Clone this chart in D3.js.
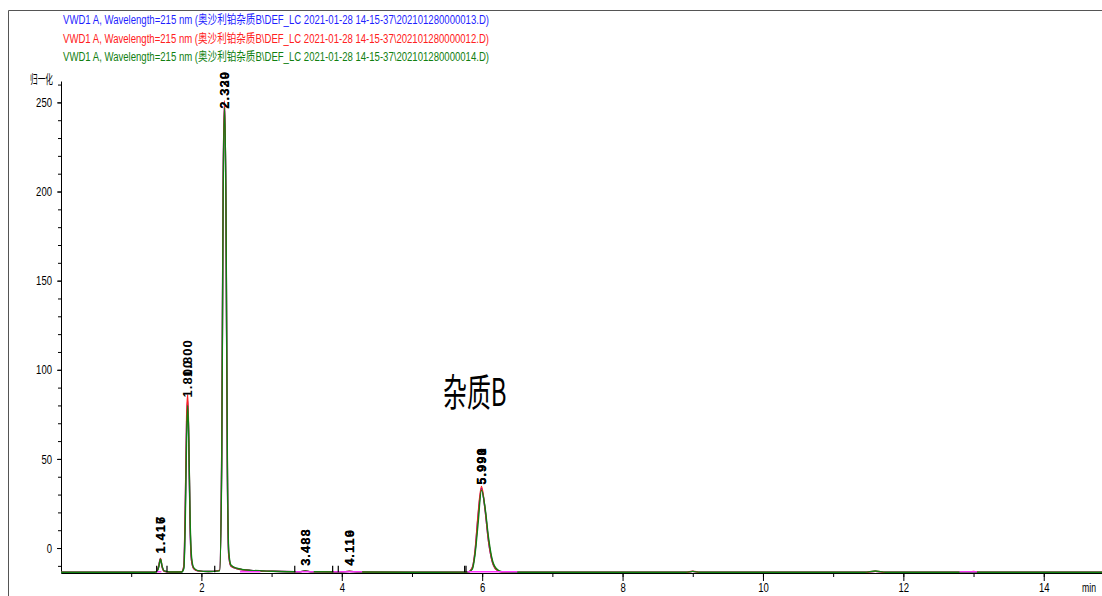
<!DOCTYPE html>
<html>
<head>
<meta charset="utf-8">
<script src="https://cdn.jsdelivr.net/npm/d3@7"></script>
<style>
  html, body { margin: 0; padding: 0; background: #fff; overflow: hidden; }
  svg { display: block; }
</style>
</head>
<body>
<div id="chart"></div>
<script>
// legend lines (one per run)
const legendTexts = [
  "VWD1 A, Wavelength=215 nm (奥沙利铂杂质B\\DEF_LC 2021-01-28 14-15-37\\202101280000013.D)",
  "VWD1 A, Wavelength=215 nm (奥沙利铂杂质B\\DEF_LC 2021-01-28 14-15-37\\202101280000012.D)",
  "VWD1 A, Wavelength=215 nm (奥沙利铂杂质B\\DEF_LC 2021-01-28 14-15-37\\202101280000014.D)"
];
const seriesColors = ["#1f1fff", "#ff2020", "#118011"];

// retention time (min)
const times = [0, 1.30, 1.36, 1.39, 1.417, 1.44, 1.47, 1.55, 1.72, 1.75, 1.77, 1.79, 1.805, 1.82, 1.84, 1.86, 1.89, 1.95,
  2.10, 2.26, 2.29, 2.31, 2.33, 2.35, 2.37, 2.39, 2.42, 2.50, 2.70, 3.00, 3.40, 3.48, 3.56, 4.00, 4.11, 4.22,
  5.00, 5.80, 5.86, 5.90, 5.94, 5.99, 6.04, 6.09, 6.14, 6.20, 6.28, 6.50, 8.00, 8.90, 9.00, 9.10, 11.45, 11.60,
  11.75, 12.90, 13.00, 13.10, 14.83];

const blueValues = [-13.6, -13.6, -13.2, -10.6, -6.0, -10.6, -13.0, -13.4, -13.3, -10.5, 20, 71, 83, 60, 11, -7, -11.5, -12.8,
  -13.2, -12.5, 54, 204, 250, 189, 44, -4, -10, -11.5, -12.6, -13.0, -13.3, -12.9, -13.3, -13.4, -13.1, -13.4,
  -13.6, -13.5, -11, -1.5, 17, 33.5, 22, 4, -7, -12, -13.4, -13.6, -13.6, -13.6, -13.1, -13.6, -13.6, -13.1,
  -13.6, -13.6, -13.5, -13.6, -13.6];

const redValues = [-13.6, -13.6, -13.2, -10.5, -5.8, -10.5, -13.0, -13.4, -13.3, -10, 22, 74, 86, 62, 12, -7, -11.5, -12.8,
  -13.2, -12.5, 55, 205, 251, 190, 45, -4, -10, -11.5, -12.6, -13.0, -13.3, -12.8, -13.3, -13.4, -13.0, -13.4,
  -13.6, -13.5, -11, -1, 18, 34.5, 22, 4, -7, -12, -13.4, -13.6, -13.6, -13.6, -13.0, -13.6, -13.6, -13.0,
  -13.6, -13.6, -13.2, -13.6, -13.6];

const greenValues = [-13.6, -13.6, -13.3, -11.0, -6.2, -10.0, -12.8, -13.4, -13.4, -11.5, 14, 64, 80, 62, 15, -5, -11, -12.7,
  -13.2, -12.8, 48, 198, 247, 194, 50, -2, -9.5, -11.3, -12.5, -13.0, -13.3, -12.9, -13.3, -13.4, -13.1, -13.4,
  -13.6, -13.5, -11.8, -3, 13, 32.5, 23, 6, -6, -11.5, -13.3, -13.6, -13.6, -13.6, -13.1, -13.6, -13.6, -12.9,
  -13.6, -13.6, -13.5, -13.6, -13.6];

const seriesValues = [blueValues, redValues, greenValues];

// peak labels (retention time, label foot value, text)
const peakLabelTimes = [1.417, 1.417, 1.80, 1.80, 2.33, 2.33, 3.485, 3.485, 4.11, 4.11, 5.99, 5.99, 5.99];
const peakLabelValues = [-3, -3, 84.5, 96, 246.5, 246.5, -10, -10, -10, -10, 35.5, 35.5, 35.5];
const peakLabelTexts = ["1.417", "1.416", "1.800", "1.800", "2.330", "2.329", "3.488", "3.483", "4.116", "4.119", "5.990", "5.993", "5.991"];

// integration baselines and event marks
const baselineStarts = [1.37, 2.55, 3.34, 3.88, 5.79, 12.8];
const baselineEnds = [1.43, 2.84, 3.60, 4.29, 6.50, 13.05];
const eventTimes = [1.363, 1.51, 2.19, 3.33, 3.87, 3.95, 5.75, 5.77];

const xTicks = d3.range(1, 15);
const yTicks = d3.range(-10, 261, 10);

const width = 1102;
const height = 596;
const plotLeft = 61;
const plotRight = 1102;
const plotTop = 81;
const plotBottom = 573;

const svg = d3
  .select("#chart")
  .append("svg")
  .attr("width", width)
  .attr("height", height);

const x = d3.scaleLinear().domain([0, 14.83]).range([plotLeft, plotRight]);
const y = d3.scaleLinear().domain([-14, 262]).range([plotBottom, plotTop]);

// outer frame
svg
  .append("path")
  .attr("d", `M8.5,${height} V10.5 H${width}`)
  .attr("fill", "none")
  .attr("stroke", "#555")
  .attr("stroke-width", 1);

// legend
svg
  .selectAll(".legend")
  .data(legendTexts)
  .enter()
  .append("text")
  .attr("class", "legend")
  .attr("x", 63)
  .attr("y", (_, i) => 24 + i * 18.5)
  .attr("textLength", 426)
  .attr("lengthAdjust", "spacingAndGlyphs")
  .attr("fill", (_, i) => seriesColors[i])
  .style("font-family", "'Liberation Sans', 'Noto Sans CJK SC', sans-serif")
  .style("font-size", "12.5px")
  .text((d) => d);

// condensed tick labels, ~5.3px per character
const tickFont = (g) =>
  g
    .selectAll("text")
    .style("font-family", "'Liberation Sans', Arial, sans-serif")
    .style("font-size", "13px")
    .attr("textLength", function () {
      return this.textContent.length * 5.3;
    })
    .attr("lengthAdjust", "spacingAndGlyphs")
    .attr("fill", "#000");

// y axis: minor ticks, then labelled majors
svg
  .append("g")
  .attr("transform", `translate(${plotLeft},0)`)
  .call(d3.axisLeft(y).tickValues(yTicks).tickSize(3).tickSizeOuter(0).tickFormat(""))
  .call((g) => g.selectAll("line").attr("stroke", "#000"))
  .call((g) => g.select(".domain").attr("stroke", "#000"));

svg
  .append("g")
  .attr("transform", `translate(${plotLeft},0)`)
  .call(d3.axisLeft(y).tickValues([0, 50, 100, 150, 200, 250]).tickSize(4).tickPadding(5))
  .call((g) => g.select(".domain").remove())
  .call((g) => g.selectAll("line").attr("stroke", "#000"))
  .call(tickFont);

svg
  .append("text")
  .attr("x", 53)
  .attr("y", 84)
  .attr("text-anchor", "end")
  .attr("textLength", 23)
  .attr("lengthAdjust", "spacingAndGlyphs")
  .style("font-family", "'Noto Sans CJK SC', sans-serif")
  .style("font-size", "12.5px")
  .text("归一化");

// x axis
svg
  .append("g")
  .attr("transform", `translate(0,${plotBottom})`)
  .call(d3.axisBottom(x).tickValues(xTicks).tickSize(4).tickSizeOuter(0).tickFormat(""))
  .call((g) => g.selectAll("line").attr("stroke", "#000"))
  .call((g) => g.select(".domain").attr("stroke", "#000"));

svg
  .append("g")
  .attr("transform", `translate(0,${plotBottom})`)
  .call(d3.axisBottom(x).tickValues(xTicks.filter((t) => t % 2 === 0)).tickSize(8).tickPadding(2))
  .call((g) => g.select(".domain").remove())
  .call((g) => g.selectAll("line").attr("stroke", "#000"))
  .call(tickFont);

// axis unit at the right edge
svg
  .append("text")
  .attr("x", 1082)
  .attr("y", 592)
  .attr("textLength", 14)
  .attr("lengthAdjust", "spacingAndGlyphs")
  .style("font-family", "'Liberation Sans', sans-serif")
  .style("font-size", "12px")
  .text("min");

// traces
const line = d3
  .line()
  .x((d) => x(d[0]))
  .y((d) => y(d[1]))
  .curve(d3.curveMonotoneX);

svg
  .selectAll(".trace")
  .data(seriesValues)
  .enter()
  .append("path")
  .attr("class", "trace")
  .attr("d", (vals) => line(times.map((t, i) => [t, vals[i]])))
  .attr("fill", "none")
  .attr("stroke", (_, i) => seriesColors[i])
  .attr("stroke-width", 1.4)
  .attr("stroke-linejoin", "round");

// integration baselines
svg
  .selectAll(".base")
  .data(baselineStarts)
  .enter()
  .append("line")
  .attr("class", "base")
  .attr("x1", (d) => x(d))
  .attr("x2", (_, i) => x(baselineEnds[i]))
  .attr("y1", y(-13.3))
  .attr("y2", y(-13.3))
  .attr("stroke", "#ff33ff")
  .attr("stroke-width", 1.4);

// event marks
svg
  .selectAll(".event")
  .data(eventTimes)
  .enter()
  .append("line")
  .attr("class", "event")
  .attr("x1", (d) => x(d))
  .attr("x2", (d) => x(d))
  .attr("y1", y(-13.6))
  .attr("y2", y(-10))
  .attr("stroke", "#000")
  .attr("stroke-width", 1.2);

// peak labels
svg
  .selectAll(".peak")
  .data(peakLabelTexts)
  .enter()
  .append("text")
  .attr("class", "peak")
  .attr("transform", (_, i) => `translate(${x(peakLabelTimes[i])},${y(peakLabelValues[i])}) rotate(-90)`)
  .attr("dominant-baseline", "central")
  .style("font-family", "'Liberation Sans', Arial, sans-serif")
  .style("font-size", "13px")
  .style("font-weight", "bold")
  .style("letter-spacing", "1px")
  .attr("fill", "#000")
  .text((d) => d);

// annotation
svg
  .append("text")
  .attr("transform", "translate(443,406) scale(0.63,1)")
  .style("font-family", "'Noto Sans CJK SC', sans-serif")
  .style("font-size", "38px")
  .attr("fill", "#000")
  .text("杂质B");
</script>
</body>
</html>
